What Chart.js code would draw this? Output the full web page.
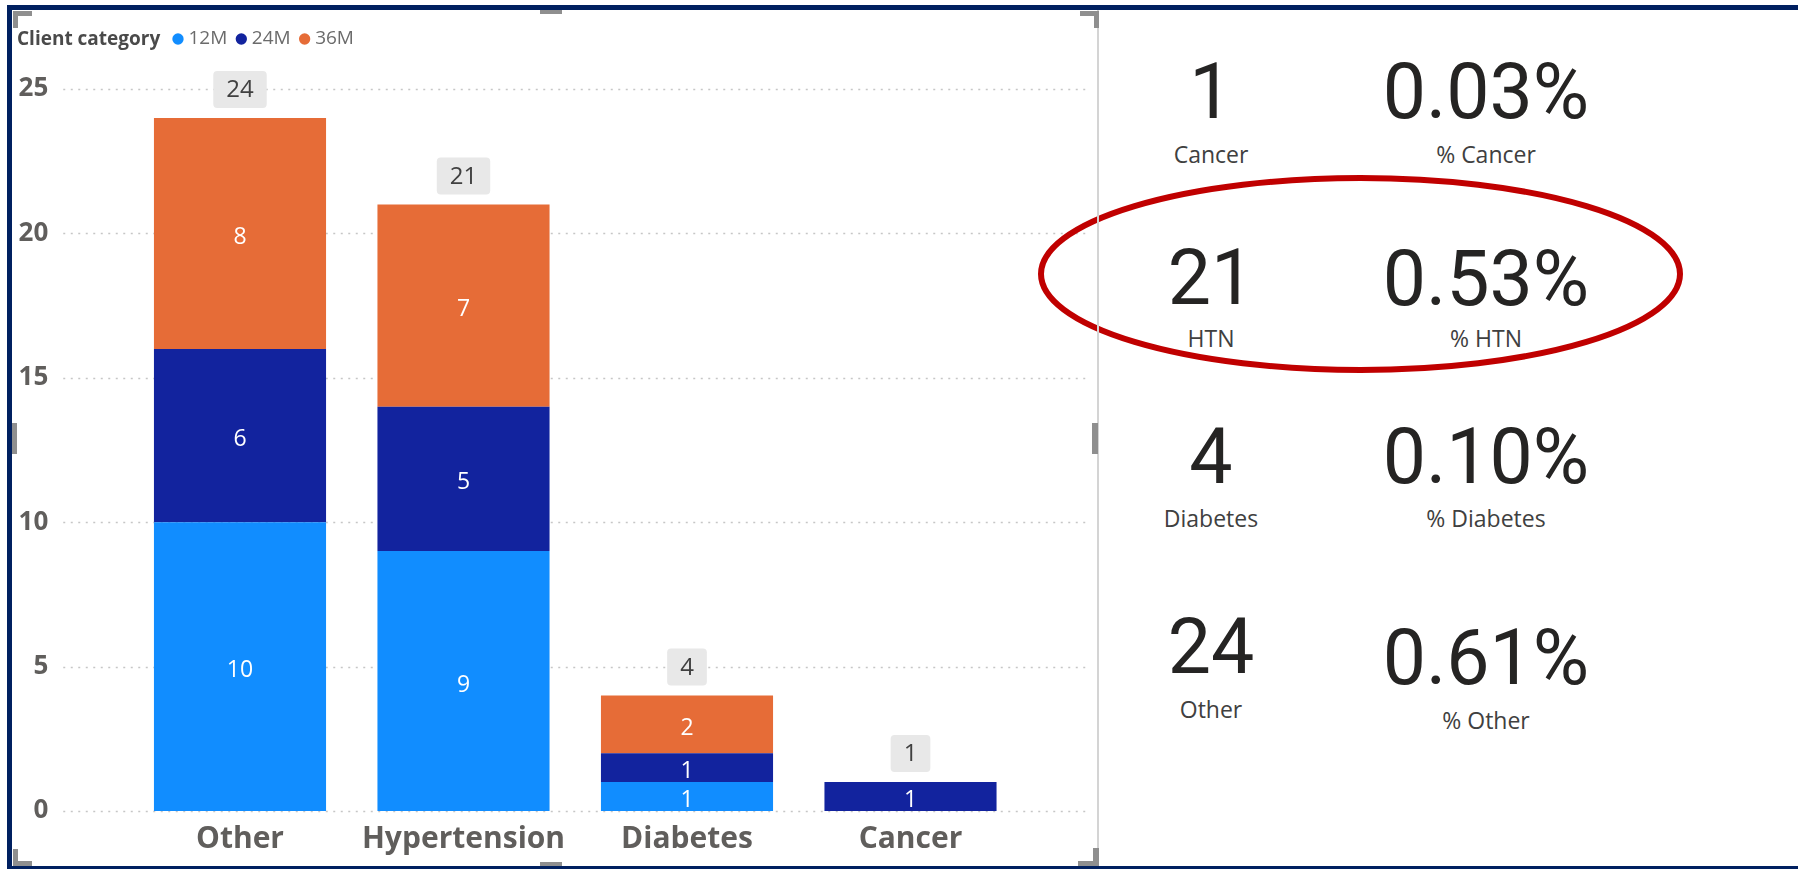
<!DOCTYPE html>
<html>
<head>
<meta charset="utf-8">
<script src="https://cdn.jsdelivr.net/npm/chart.js@4.4.1/dist/chart.umd.min.js"></script>
<style>
html,body{margin:0;padding:0;background:#fff;width:1798px;height:869px;overflow:hidden;position:relative;}
#chartWrap{position:absolute;left:0;top:0;width:1098px;height:869px;}
.bd{position:absolute;background:#002060;}
.hd{position:absolute;background:#8f8f8f;}
.sep{position:absolute;background:#d4d4d4;}
.kn{position:absolute;font-family:Roboto,'Open Sans',sans-serif;font-size:77px;color:#252423;line-height:1;transform:translate(-50%,-50%);white-space:nowrap;}
.kl{position:absolute;font-family:'Open Sans',sans-serif;font-size:23px;color:#404040;line-height:1;transform:translate(-50%,-50%);white-space:nowrap;}
svg{position:absolute;left:0;top:0;}
</style>
</head>
<body>
<div id="chartWrap"><canvas id="c" width="1098" height="869"></canvas></div>
<div id="kpi"></div>
<svg width="1798" height="869"><ellipse cx="1360.5" cy="274" rx="319.5" ry="96" fill="none" stroke="#C00000" stroke-width="6"/></svg>
<div class="sep" style="left:1097px;top:10px;width:2px;height:857px;"></div>
<div class="hd" style="left:13px;top:11px;width:19px;height:5px;"></div>
<div class="hd" style="left:13px;top:11px;width:5px;height:17px;"></div>
<div class="hd" style="left:540px;top:10px;width:22px;height:4px;"></div>
<div class="hd" style="left:1080px;top:11px;width:19px;height:5px;"></div>
<div class="hd" style="left:1094px;top:11px;width:5px;height:17px;"></div>
<div class="hd" style="left:12px;top:423px;width:5px;height:31px;"></div>
<div class="hd" style="left:1092px;top:423px;width:6px;height:31px;"></div>
<div class="hd" style="left:13px;top:861px;width:19px;height:5px;"></div>
<div class="hd" style="left:13px;top:849px;width:5px;height:17px;"></div>
<div class="hd" style="left:540px;top:862px;width:22px;height:4px;"></div>
<div class="hd" style="left:1078px;top:861px;width:21px;height:5px;"></div>
<div class="hd" style="left:1093px;top:848px;width:6px;height:18px;"></div>
<div class="bd" style="left:7px;top:5px;width:1791px;height:5px;"></div>
<div class="bd" style="left:7px;top:5px;width:5px;height:864px;"></div>
<div class="bd" style="left:7px;top:866px;width:1791px;height:3px;"></div>
<script>
// ---- data ----
const categories = ['Other', 'Hypertension', 'Diabetes', 'Cancer'];
const seriesNames = ['12M', '24M', '36M'];
const values12M = [10, 9, 1, 0];
const values24M = [6, 5, 1, 1];
const values36M = [8, 7, 2, 0];
const yTicks = [0, 5, 10, 15, 20, 25];
const legendTitle = 'Client category';

const kpiLabels = ['Cancer', 'HTN', 'Diabetes', 'Other'];
const kpiCounts = ['1', '21', '4', '24'];
const kpiPercentLabels = ['% Cancer', '% HTN', '% Diabetes', '% Other'];
const kpiPercents = ['0.03%', '0.53%', '0.10%', '0.61%'];

// ---- styles ----
const seriesColors = ['#118DFF', '#12239E', '#E66C37'];
const FONT = "'Open Sans', sans-serif";

// ---- KPI cards (HTML) ----
(function(){
  const kpi = document.getElementById('kpi');
  const rowNumY = [92, 278, 457, 647];
  const rowLblY = [154, 338, 518, 709];
  const rowPctY = [92, 279, 457, 658];
  const rowPctLblY = [154, 338, 518, 720];
  kpiLabels.forEach((lab, i) => {
    const a = document.createElement('div'); a.className = 'kn';
    a.style.left = '1211px'; a.style.top = rowNumY[i] + 'px'; a.textContent = kpiCounts[i]; kpi.appendChild(a);
    const b = document.createElement('div'); b.className = 'kl';
    b.style.left = '1211px'; b.style.top = rowLblY[i] + 'px'; b.textContent = lab; kpi.appendChild(b);
    const c = document.createElement('div'); c.className = 'kn';
    c.style.left = '1486px'; c.style.top = rowPctY[i] + 'px'; c.textContent = kpiPercents[i]; kpi.appendChild(c);
    const d = document.createElement('div'); d.className = 'kl';
    d.style.left = '1486px'; d.style.top = rowPctLblY[i] + 'px'; d.textContent = kpiPercentLabels[i]; kpi.appendChild(d);
  });
})();

// ---- plugins ----
const legendSpacer = {
  id: 'legendSpacer',
  beforeInit(chart) {
    const origFit = chart.legend.fit;
    chart.legend.fit = function() { origFit.call(this); this.height += 30.5; };
  },
  afterLayout(chart) {
    chart.legend.left += 164;
  },
  afterDraw(chart) {
    const ctx = chart.ctx;
    ctx.save();
    ctx.font = 'bold 19px ' + FONT;
    ctx.fillStyle = '#4a4a4a';
    ctx.textAlign = 'left';
    ctx.textBaseline = 'middle';
    ctx.fillText(legendTitle, 17, 40);
    ctx.restore();
  }
};

const dottedGrid = {
  id: 'dottedGrid',
  beforeDatasetsDraw(chart) {
    const {ctx, chartArea, scales: {y}} = chart;
    ctx.save();
    ctx.strokeStyle = '#c6c6c6';
    ctx.lineWidth = 1.5;
    ctx.setLineDash([2, 5.5]);
    yTicks.forEach(v => {
      const py = Math.round(y.getPixelForValue(v)) + 0.5;
      ctx.beginPath();
      ctx.moveTo(chartArea.left - 65, py);
      ctx.lineTo(chartArea.right + 66, py);
      ctx.stroke();
    });
    ctx.restore();
  }
};

const barLabels = {
  id: 'barLabels',
  afterDatasetsDraw(chart) {
    const ctx = chart.ctx;
    ctx.save();
    ctx.textAlign = 'center';
    ctx.textBaseline = 'middle';
    ctx.font = '23px ' + FONT;
    ctx.fillStyle = '#ffffff';
    chart.data.datasets.forEach((ds, di) => {
      const meta = chart.getDatasetMeta(di);
      meta.data.forEach((el, i) => {
        const v = ds.data[i];
        if (!v) return;
        ctx.fillText(String(v), el.x, (el.y + el.base) / 2 + 4);
      });
    });
    ctx.font = '24px ' + FONT;
    categories.forEach((cat, i) => {
      let total = 0, top = Infinity, x = 0;
      chart.data.datasets.forEach((ds, di) => {
        const v = ds.data[i];
        if (!v) return;
        total += v;
        const el = chart.getDatasetMeta(di).data[i];
        top = Math.min(top, el.y);
        x = el.x;
      });
      const txt = String(total);
      const w = ctx.measureText(txt).width + 26;
      const h = 37;
      const by = top - 10 - h;
      ctx.fillStyle = '#e8e8e8';
      ctx.beginPath();
      ctx.roundRect(x - w / 2, by, w, h, 4);
      ctx.fill();
      ctx.fillStyle = '#404040';
      ctx.fillText(txt, x, by + h / 2 + 1);
    });
    ctx.restore();
  }
};

const seriesData = [values12M, values24M, values36M];

new Chart(document.getElementById('c'), {
  type: 'bar',
  data: {
    labels: categories,
    datasets: seriesNames.map((n, i) => ({
      label: n,
      data: seriesData[i],
      backgroundColor: seriesColors[i],
      borderWidth: 0,
      stack: 'total'
    }))
  },
  options: {
    responsive: false,
    animation: false,
    layout: { padding: { left: 0, right: 75.75, top: 16.5, bottom: 0 } },
    datasets: { bar: { categoryPercentage: 1, barPercentage: 0.77 } },
    scales: {
      x: {
        stacked: true,
        grid: { display: false },
        border: { display: false },
        ticks: { color: '#605E5C', font: { family: FONT, size: 30, weight: 'bold' }, padding: 2 },
        afterFit(s) { s.height = 58; }
      },
      y: {
        stacked: true,
        min: 0,
        max: 25,
        afterBuildTicks(s) { s.ticks = yTicks.map(v => ({ value: v })); },
        grid: { display: false, drawTicks: false },
        border: { display: false },
        ticks: { color: '#605E5C', font: { family: FONT, size: 26, weight: 'bold' }, padding: 80 },
        afterFit(s) { s.width = 128.25; s.paddingTop = 0; s.paddingBottom = 0; }
      }
    },
    plugins: {
      legend: {
        display: true,
        position: 'top',
        align: 'start',
        labels: {
          usePointStyle: true,
          pointStyle: 'circle',
          boxWidth: 2,
          boxHeight: 8,
          padding: 13,
          color: '#6b6b6b',
          font: { family: FONT, size: 19 }
        }
      },
      tooltip: { enabled: false }
    }
  },
  plugins: [legendSpacer, dottedGrid, barLabels]
});
</script>
</body>
</html>
